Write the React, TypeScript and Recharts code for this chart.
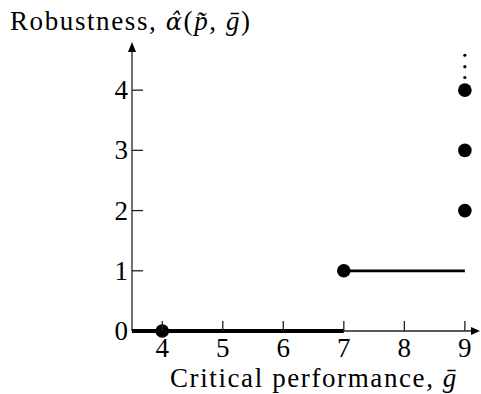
import React from 'react';
import { ComposedChart, XAxis, YAxis, Line, Scatter, ReferenceLine, Label } from 'recharts';

const xTicks = [4, 5, 6, 7, 8, 9];
const yTicks = [0, 1, 2, 3, 4];
const xDomain = [3.5, 9.25];
const yDomain = [0, 4.8];
const zeroSegment = [{ x: 3.5, y: 0 }, { x: 7, y: 0 }];
const oneSegment = [{ x: 7, y: 1 }, { x: 9, y: 1 }];
const points = [{ x: 4, y: 0 }, { x: 7, y: 1 }, { x: 9, y: 2 }, { x: 9, y: 3 }, { x: 9, y: 4 }];
const ellipsisDots = [{ x: 9, y: 4.21 }, { x: 9, y: 4.39 }, { x: 9, y: 4.58 }];
const xAxisLine = [{ x: 3.5, y: 0 }, { x: 9.25, y: 0 }];
const yAxisLine = [{ x: 3.5, y: 0 }, { x: 3.5, y: 4.8 }];

const FONT = 'Liberation Serif';
const FS = 27;
const LS = 1.6;

const XTick = (props: any) => {
  const { x, y, payload } = props;
  return (
    <g>
      <line x1={x} y1={y} x2={x} y2={y - 10} stroke="#222" strokeWidth={1.3} />
      <text x={x} y={y + 26} textAnchor="middle" fontFamily={FONT} fontSize={FS} fill="#000">
        {payload.value}
      </text>
    </g>
  );
};

const YTick = (props: any) => {
  const { x, y, payload } = props;
  return (
    <g>
      {payload.value !== 0 && <line x1={x} y1={y} x2={x + 11} y2={y} stroke="#222" strokeWidth={1.3} />}
      <text x={x - 4} y={y + 9} textAnchor="end" fontFamily={FONT} fontSize={FS} fill="#000">
        {payload.value}
      </text>
    </g>
  );
};

const ArrowX = (props: any) => {
  const { x1, y1, x2, y2 } = props;
  return (
    <g>
      <line x1={x1} y1={y1} x2={x2 - 6} y2={y2} stroke="#222" strokeWidth={1.3} />
      <polygon points={`${x2},${y2} ${x2 - 9},${y2 - 4} ${x2 - 9},${y2 + 4}`} fill="#000" />
    </g>
  );
};

const ArrowY = (props: any) => {
  const { x1, y1, x2, y2 } = props;
  const topY = Math.min(y1, y2);
  const botY = Math.max(y1, y2);
  return (
    <g>
      <line x1={x1} y1={botY} x2={x2} y2={topY + 6} stroke="#222" strokeWidth={1.3} />
      <polygon points={`${x1},${topY} ${x1 - 4},${topY + 10} ${x1 + 4},${topY + 10}`} fill="#000" />
    </g>
  );
};

const TitleLabel = () => (
  <text x={10} y={30} fontFamily={FONT} fontSize={FS} letterSpacing={LS} fill="#000">
    Robustness,{' '}
    <tspan fontStyle="italic" fontFamily="DejaVu Serif" fontSize={24}>{'\u03B1\u0302'}</tspan>
    <tspan>(</tspan>
    <tspan fontStyle="italic">{'p\u0303'}</tspan>
    <tspan>, </tspan>
    <tspan fontStyle="italic">{'g\u0304'}</tspan>
    <tspan>)</tspan>
  </text>
);

const XLabel = () => (
  <text x={314} y={387} textAnchor="middle" fontFamily={FONT} fontSize={FS} letterSpacing={LS} fill="#000">
    Critical performance,{' '}
    <tspan fontStyle="italic">{'g\u0304'}</tspan>
  </text>
);

const BigDot = (props: any) => <circle cx={props.cx} cy={props.cy} r={6.8} fill="#000" />;
const SmallDot = (props: any) => <circle cx={props.cx} cy={props.cy} r={1.6} fill="#000" />;

export default function App() {
  return (
    <div style={{ position: 'absolute', left: 0, top: 0 }}>
      <ComposedChart
        width={481}
        height={394}
        margin={{ top: 42, right: 1, bottom: 62, left: 131 }}
        style={{ background: '#fff' }}
      >
        <XAxis
          type="number"
          dataKey="x"
          domain={xDomain}
          ticks={xTicks}
          axisLine={false}
          tickLine={false}
          tickSize={0}
          tickMargin={0}
          height={1}
          tick={<XTick />}
          interval={0}
        >
          <Label content={<XLabel />} />
        </XAxis>
        <YAxis
          type="number"
          dataKey="y"
          domain={yDomain}
          ticks={yTicks}
          axisLine={false}
          tickLine={false}
          tickSize={0}
          tickMargin={0}
          width={1}
          tick={<YTick />}
          interval={0}
        >
          <Label content={<TitleLabel />} />
        </YAxis>
        <ReferenceLine segment={xAxisLine} shape={<ArrowX />} ifOverflow="visible" />
        <ReferenceLine segment={yAxisLine} shape={<ArrowY />} ifOverflow="visible" />
        <Line data={zeroSegment} dataKey="y" type="linear" stroke="#000" strokeWidth={3.8} dot={false} isAnimationActive={false} />
        <Line data={oneSegment} dataKey="y" type="linear" stroke="#000" strokeWidth={2.8} dot={false} isAnimationActive={false} />
        <Scatter data={points} dataKey="y" fill="#000" shape={<BigDot />} isAnimationActive={false} />
        <Scatter data={ellipsisDots} dataKey="y" fill="#000" shape={<SmallDot />} isAnimationActive={false} />
      </ComposedChart>
    </div>
  );
}
